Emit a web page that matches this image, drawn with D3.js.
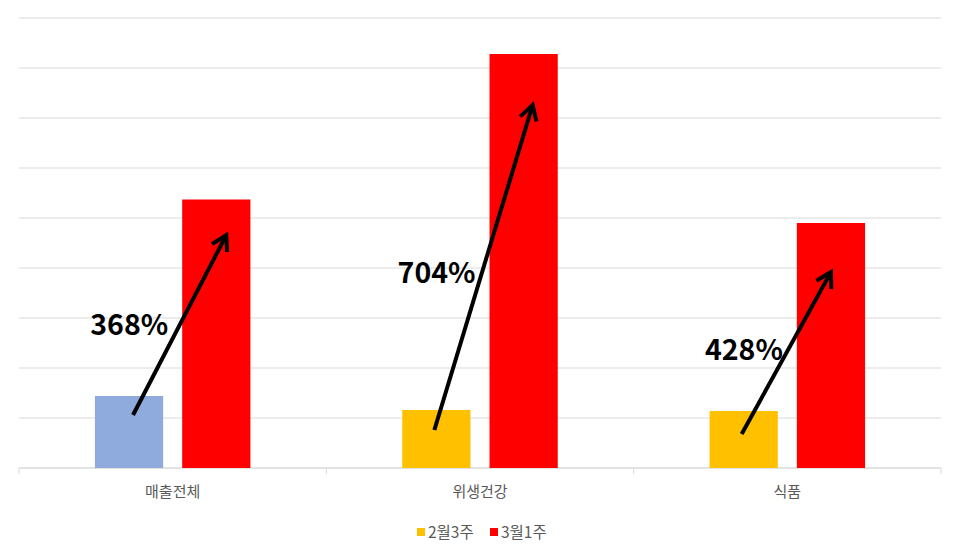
<!DOCTYPE html>
<html>
<head>
<meta charset="utf-8">
<script src="https://cdn.jsdelivr.net/npm/d3@7"></script>
<style>
  body { margin: 0; background: #fff; }
  svg { display: block; }
  text { font-family: "Noto Sans CJK KR", "Noto Sans", sans-serif; }
</style>
</head>
<body>
<div id="chart"></div>
<script>
// data
const categories = ['매출전체', '위생건강', '식품'];
const series = ['2월3주', '3월1주'];
const week1 = [1.44, 1.16, 1.14];   // 2월3주
const week2 = [5.37, 8.28, 4.90];   // 3월1주
const growthLabels = ['368%', '704%', '428%'];
// arrow start / end and label baseline, in value units
const arrowFrom = [1.06, 0.76, 0.68];
const arrowTo = [4.66, 7.26, 3.92];
const labelAt = [2.66, 3.70, 2.16];

const width = 960, height = 558;
const margin = {top: 18, right: 19, bottom: 90, left: 19};
const innerW = width - margin.left - margin.right;
const innerH = height - margin.top - margin.bottom;

const svg = d3.select('#chart').append('svg')
  .attr('width', width)
  .attr('height', height);

const chart = svg.append('g')
  .attr('transform', `translate(${margin.left},${margin.top})`);

const x0 = d3.scaleBand()
  .domain(categories)
  .range([0, innerW]);

const x1 = d3.scaleBand()
  .domain(series)
  .range([0, x0.bandwidth()])
  .paddingInner(0.218)
  .paddingOuter(0.87);

const y = d3.scaleLinear()
  .domain([0, 9])
  .range([innerH, 0]);

const color = d3.scaleOrdinal()
  .domain(series)
  .range(['#FFC000', '#FF0000']);

// gridlines
chart.append('g')
  .selectAll('line')
  .data(y.ticks(9))
  .join('line')
  .attr('x1', 0)
  .attr('x2', innerW)
  .attr('y1', d => y(d))
  .attr('y2', d => y(d))
  .attr('stroke', '#d9d9d9')
  .attr('stroke-width', 1);

// x axis: baseline, ticks between categories, labels
const xAxisG = chart.append('g')
  .attr('transform', `translate(0,${innerH})`);

xAxisG.append('line')
  .attr('x1', 0).attr('x2', innerW)
  .attr('stroke', '#d9d9d9');

const bounds = categories.map(c => x0(c)).concat([innerW]);
xAxisG.selectAll('.tick-mark')
  .data(bounds)
  .join('line')
  .attr('class', 'tick-mark')
  .attr('x1', d => d).attr('x2', d => d)
  .attr('y1', 0).attr('y2', 6)
  .attr('stroke', '#d9d9d9');

xAxisG.selectAll('.cat-label')
  .data(categories)
  .join('text')
  .attr('class', 'cat-label')
  .attr('x', d => x0(d) + x0.bandwidth() / 2)
  .attr('y', 29)
  .attr('text-anchor', 'middle')
  .attr('font-size', 15)
  .attr('fill', '#595959')
  .text(d => d);

// bars
const barData = [];
categories.forEach((c, i) => {
  barData.push({cat: c, key: series[0], value: week1[i], i});
  barData.push({cat: c, key: series[1], value: week2[i], i});
});

chart.append('g')
  .selectAll('rect')
  .data(barData)
  .join('rect')
  .attr('x', d => x0(d.cat) + x1(d.key))
  .attr('width', x1.bandwidth())
  .attr('y', d => y(d.value))
  .attr('height', d => innerH - y(d.value))
  // the first week bar of the total is drawn blue in the original
  .attr('fill', d => (d.i === 0 && d.key === series[0]) ? '#8FAADC' : color(d.key));

// growth arrows
const arrowG = chart.append('g');
const toDx = [10, 9, 0];
categories.forEach((c, i) => {
  const sx = x0(c) + x1(series[0]) + x1.bandwidth() / 2 + (i === 0 ? 4 : -2);
  const sy = y(arrowFrom[i]);
  const ex = x0(c) + x1(series[1]) + x1.bandwidth() / 2 + toDx[i];
  const ey = y(arrowTo[i]);
  const ang = Math.atan2(ey - sy, ex - sx);
  const len = 17, spread = Math.PI / 6;
  const a1 = [ex - len * Math.cos(ang - spread), ey - len * Math.sin(ang - spread)];
  const a2 = [ex - len * Math.cos(ang + spread), ey - len * Math.sin(ang + spread)];

  arrowG.append('line')
    .attr('x1', sx).attr('y1', sy)
    .attr('x2', ex).attr('y2', ey)
    .attr('stroke', '#000')
    .attr('stroke-width', 4);

  arrowG.append('path')
    .attr('d', `M${a1[0]},${a1[1]}L${ex},${ey}L${a2[0]},${a2[1]}`)
    .attr('fill', 'none')
    .attr('stroke', '#000')
    .attr('stroke-width', 4)
    .attr('stroke-linejoin', 'miter');

  arrowG.append('text')
    .attr('x', x0(c) + x1(series[1]) - 14)
    .attr('y', y(labelAt[i]))
    .attr('text-anchor', 'end')
    .attr('font-size', 28.5)
    .attr('font-weight', 'bold')
    .attr('fill', '#000')
    .text(growthLabels[i]);
});

// legend
const legend = svg.append('g')
  .attr('transform', `translate(${width / 2},532)`);

const legendItems = legend.selectAll('g')
  .data(series)
  .join('g')
  .attr('transform', (d, i) => `translate(${-63 + i * 73},0)`);

legendItems.append('rect')
  .attr('x', 0).attr('y', -4)
  .attr('width', 8).attr('height', 8)
  .attr('fill', d => color(d));

legendItems.append('text')
  .attr('x', 11)
  .attr('y', 5.5)
  .attr('font-size', 15.5)
  .attr('fill', '#595959')
  .text(d => d);
</script>
</body>
</html>
